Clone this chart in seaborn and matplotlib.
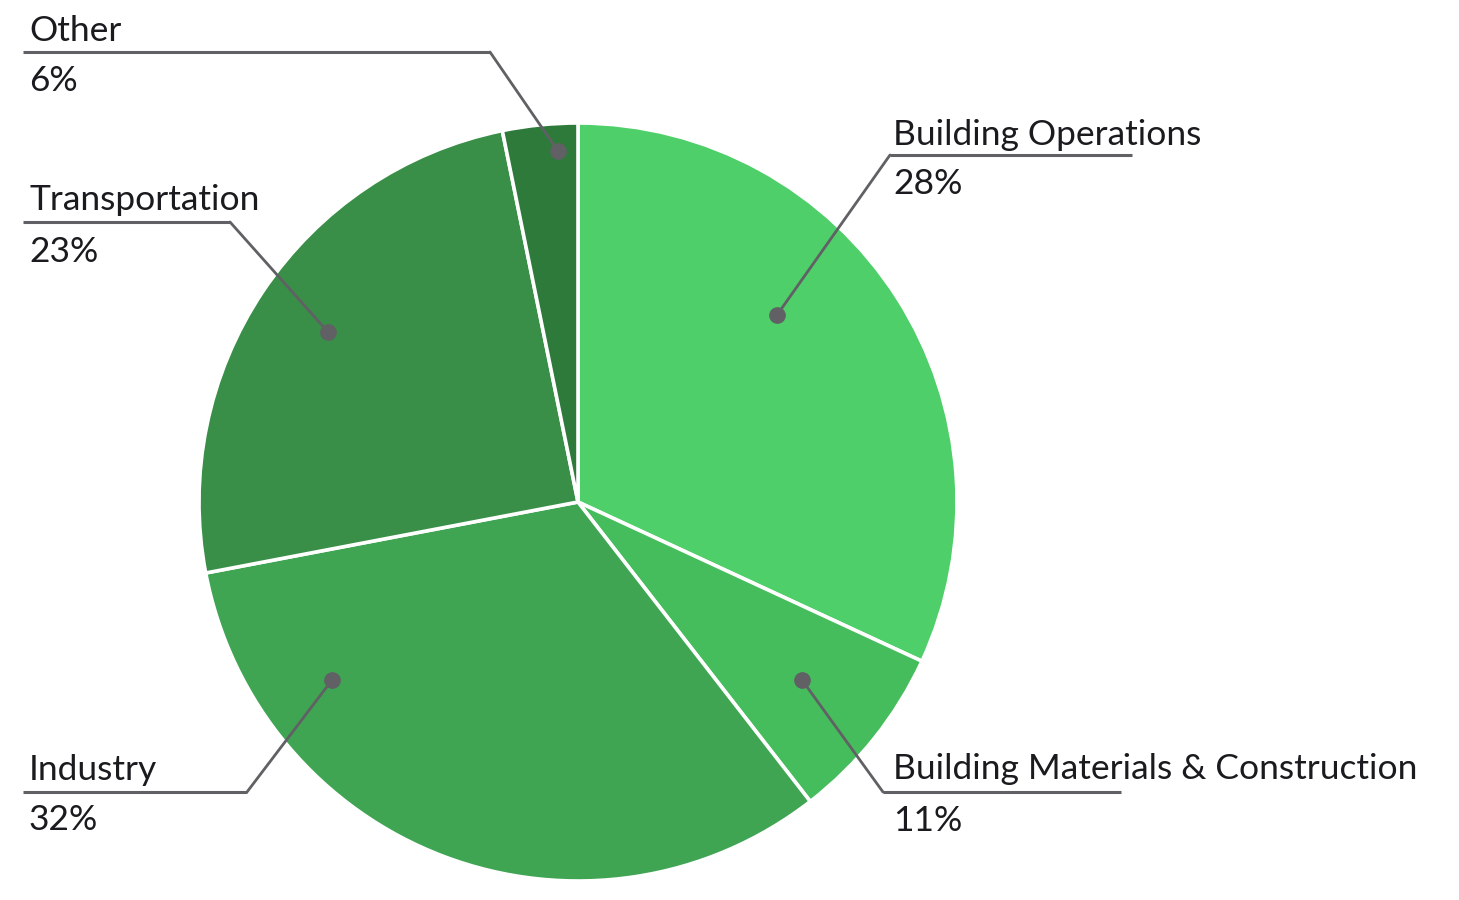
import matplotlib
matplotlib.use("Agg")
import matplotlib.pyplot as plt
import seaborn as sns

# Sectors, clockwise from 12 o'clock
sectors = ["Building Operations", "Building Materials & Construction",
           "Industry", "Transportation", "Other"]
# share of the circle each wedge takes in the picture
slice_shares = [31.9, 7.6, 32.5, 24.8, 3.2]
# percentages printed in the labels
label_pcts = [28, 11, 32, 23, 6]
colors = ["#4ecf69", "#46bd5c", "#40a553", "#3a8f48", "#2e7a3a"]

# label layout in pixels (y measured from the top):
# text x, name baseline, pct baseline, underline x0, x1, underline y, dot x, dot y
LAYOUT = {
    "Building Operations": (893, 145, 194, 890, 1132, 155, 777, 315, "left"),
    "Building Materials & Construction": (893, 779, 831, 883, 1121, 792, 802, 680, "left"),
    "Industry": (29, 780, 830, 23, 247, 792, 332, 680, "right"),
    "Transportation": (29, 210, 262, 23, 230, 222, 328, 332, "right"),
    "Other": (29, 41, 91, 23, 490, 52, 558, 151, "right"),
}

W, H = 1459, 900
CENTER = (578, 502)
RADIUS = 379
LINE_COLOR = "#606065"


def py(y):
    return H - y


sns.set_theme(style="white")
plt.rcParams["font.family"] = ["Lato", "DejaVu Sans"]
pal = sns.color_palette(colors)

fig = plt.figure(figsize=(W / 100, H / 100), dpi=100)
ax = fig.add_axes([0, 0, 1, 1])

ax.pie(slice_shares, colors=pal, startangle=90, counterclock=False,
       center=(CENTER[0], py(CENTER[1])), radius=RADIUS,
       wedgeprops=dict(edgecolor="white", linewidth=2.6))

for name, pct in zip(sectors, label_pcts):
    tx, nb, pb, x0, x1, uy, dx, dy, elbow = LAYOUT[name]
    ex = x0 if elbow == "left" else x1
    # underline + leader to the dot
    ax.plot([x0, x1], [py(uy), py(uy)], color=LINE_COLOR, lw=2.2,
            solid_capstyle="butt", zorder=3)
    ax.plot([ex, dx], [py(uy), py(dy)], color=LINE_COLOR, lw=2.0, zorder=3)
    ax.plot(dx, py(dy), "o", color=LINE_COLOR, ms=11, zorder=4)
    ax.text(tx, py(nb), name, fontsize=25.5, color="#1a1a1f",
            ha="left", va="baseline", zorder=5)
    ax.text(tx, py(pb), f"{pct}%", fontsize=25.5, color="#1a1a1f",
            ha="left", va="baseline", zorder=5)

ax.set_xlim(0, W)
ax.set_ylim(0, H)
ax.set_aspect("auto")
ax.axis("off")

fig.savefig("out.png", dpi=100, facecolor="white")
